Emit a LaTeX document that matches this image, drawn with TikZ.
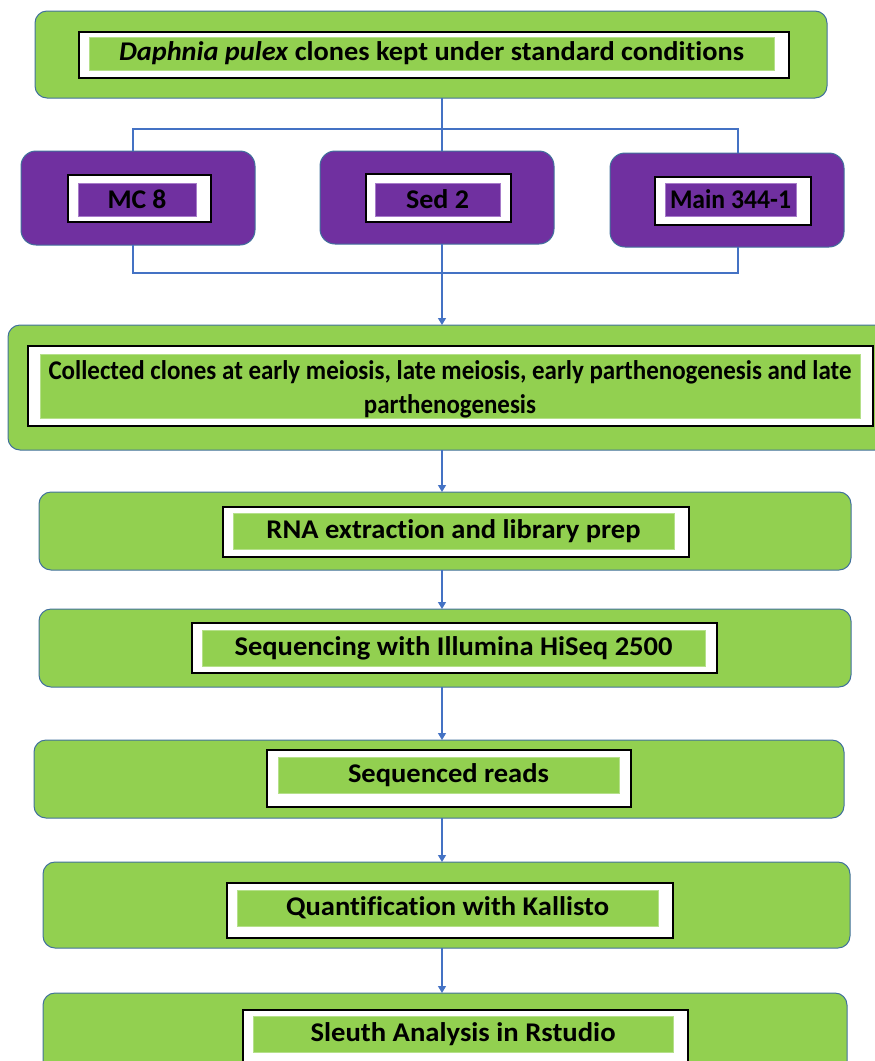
\documentclass[tikz,border=0pt]{standalone}
\usepackage{fontspec}
\setmainfont{Carlito}[Ligatures=NoCommon]
\usetikzlibrary{arrows.meta}
\definecolor{lgreen}{HTML}{92D050}
\definecolor{lgreenlt}{HTML}{B5E08A}
\definecolor{purp}{HTML}{7030A0}
\definecolor{purplt}{HTML}{A77BC9}
\definecolor{boxline}{HTML}{41719C}
\definecolor{conncol}{HTML}{4472C4}
\newsavebox\fitbox
\newcommand\fitw[2]{\sbox\fitbox{#2}\pgfmathsetmacro\fitf{#1/\the\wd\fitbox}\scalebox{\fitf}[1]{\usebox\fitbox}}
\newcommand\bx[7]{\node[#1, inner sep=0pt, outer sep=0pt, minimum width={(#5)-(#3)}, minimum height={(#6)-(#4)}] (#2) at ({((#3)+(#5))/2},{((#4)+(#6))/2}) {#7};}
\tikzset{
  outerg/.style={draw=boxline, fill=lgreen, rounded corners=12pt, line width=1pt},
  outerp/.style={draw=boxline, fill=purp, rounded corners=15pt, line width=1pt},
  wbox/.style={draw=black, fill=white, line width=1.8pt},
  txt/.style={inner sep=0pt, align=center, font=\fontsize{27}{34}\selectfont\bfseries},
  ginner/.style={fill=lgreen, draw=lgreenlt, line width=0.6pt, txt},
  pinner/.style={fill=purp, draw=purplt, line width=0.6pt, txt},
  conn/.style={draw=conncol, line width=1.3pt},
  arr/.style={conn, -{Triangle[length=7pt,width=8pt]}},
}
\begin{document}
\begin{tikzpicture}[x=1pt, y=-1pt]
\useasboundingbox (0,0) rectangle (875,1061);
\clip (0,0) rectangle (875,1061);
% stage 1
\bx{outerg}{b1}{35}{11}{827}{98}{}
\bx{wbox}{w1}{79}{32}{789}{78}{}
\bx{ginner}{g1}{89}{37}{774}{70}{\fitw{625}{\textit{Daphnia pulex} clones kept under standard conditions}}
% clones
\bx{outerp}{mc}{21}{151}{255}{245}{}
\bx{wbox}{wmc}{68}{175}{211}{222}{}
\bx{pinner}{pmc}{78}{183}{196}{216}{\fitw{59}{MC 8}}
\bx{outerp}{sed}{320}{151}{554}{244}{}
\bx{wbox}{wsed}{366}{174}{511}{222}{}
\bx{pinner}{psed}{375}{183}{500}{216}{\fitw{63}{Sed 2}}
\bx{outerp}{main}{610}{153}{844}{247}{}
\bx{wbox}{wmain}{655}{177}{811}{225}{}
\bx{pinner}{pmain}{665}{183}{796}{216}{\fitw{121}{Main 344-1}}
% stage 3
\bx{outerg}{b3}{8}{325}{890}{450}{}
\bx{wbox}{w3}{28}{346}{873}{426}{}
\bx{ginner}{g3}{40}{354}{860}{418}{}
\node[txt] (t3) at (450,389) {\fitw{803}{Collected clones at early meiosis, late meiosis, early parthenogenesis and late}\\\fitw{172}{parthenogenesis}};
% stage 4
\bx{outerg}{b4}{39}{492}{851}{570}{}
\bx{wbox}{w4}{223}{507}{689}{557}{}
\bx{ginner}{g4}{233}{513}{674}{549}{\fitw{374}{RNA extraction and library prep}}
% stage 5
\bx{outerg}{b5}{39}{609}{851}{687}{}
\bx{wbox}{w5}{192}{623}{717}{673}{}
\bx{ginner}{g5}{202}{630}{705}{666}{\fitw{438}{Sequencing with Illumina HiSeq 2500}}
% stage 6
\bx{outerg}{b6}{34}{740}{844}{818}{}
\bx{wbox}{w6}{267}{750}{631}{807}{}
\bx{ginner}{g6}{278}{757}{619}{793}{\fitw{201}{Sequenced reads}}
% stage 7
\bx{outerg}{b7}{43}{862}{850}{948}{}
\bx{wbox}{w7}{227}{883}{673}{938}{}
\bx{ginner}{g7}{237}{890}{658}{926}{\fitw{323}{Quantification with Kallisto}}
% stage 8
\bx{outerg}{b8}{43}{993}{847}{1085}{}
\bx{wbox}{w8}{243}{1010}{688}{1070}{}
\bx{ginner}{g8}{253}{1016}{673}{1052}{\fitw{305}{Sleuth Analysis in Rstudio}}
% connectors
\coordinate (jx) at (442,0);
\coordinate (hl) at (133,129);
\coordinate (hr) at (738,129);
\coordinate (bl) at (133,273);
\coordinate (br) at (738,273);
\draw[conn] (b1.south -| jx) -- (sed.north -| jx);
\draw[conn] (mc.north -| hl) -- (hl) -- (hr) -- (main.north -| hr);
\draw[conn] (mc.south -| bl) -- (bl) -- (br) -- (main.south -| br);
\draw[arr] (sed.south -| jx) -- (b3.north -| jx);
\draw[arr] (b3.south -| jx) -- (b4.north -| jx);
\draw[arr] (b4.south -| jx) -- (b5.north -| jx);
\draw[arr] (b5.south -| jx) -- (b6.north -| jx);
\draw[arr] (b6.south -| jx) -- (b7.north -| jx);
\draw[arr] (b7.south -| jx) -- (b8.north -| jx);
\end{tikzpicture}
\end{document}
